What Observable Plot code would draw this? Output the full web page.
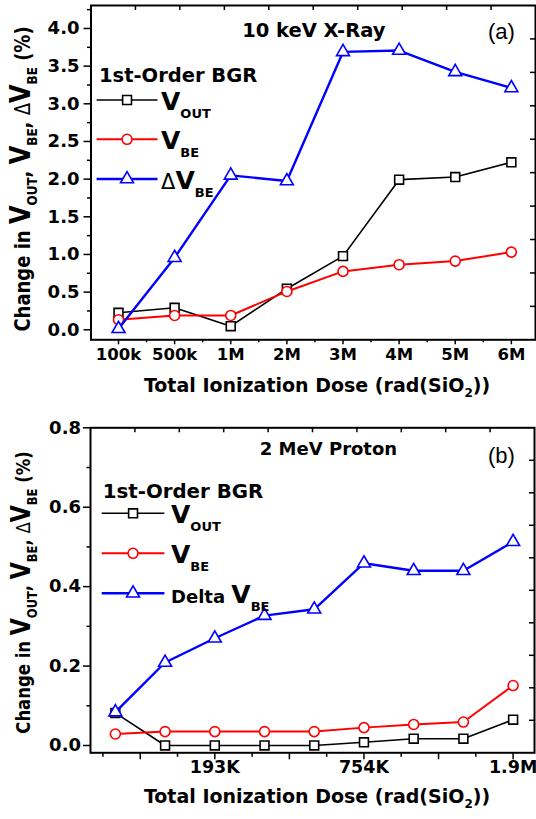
<!DOCTYPE html>
<html><head><meta charset="utf-8">
<script src="https://cdn.jsdelivr.net/npm/d3@7"></script>
<script src="https://cdn.jsdelivr.net/npm/@observablehq/plot@0.6"></script>
<style>
body{margin:0;background:#fff;}
#chart{width:536px;}
#chart svg{display:block;}
</style></head><body><div id="chart"></div>
<script>
// ---- Panel (a): 10 keV X-Ray ----
const xrayDoseLabels = ["100k","500k","1M","2M","3M","4M","5M","6M"];
const xrayVout      = [0.226,0.292,0.048,0.545,0.978,1.993,2.028,2.223];
const xrayVbe       = [0.133,0.19,0.19,0.509,0.775,0.864,0.912,1.031];
const xrayDeltaVbe  = [0.013,0.957,2.05,1.975,3.689,3.707,3.423,3.21];
const xrayYTicks    = [0,0.5,1,1.5,2,2.5,3,3.5,4];

// ---- Panel (b): 2 MeV Proton ----
const protonSteps      = [0,1,2,3,4,5,6,7,8];
const protonTickSteps  = [2,5,8];
const protonTickLabels = ["193K","754K","1.9M"];
const protonVout       = [0.082,0,0,0,0,0.008,0.017,0.017,0.065];
const protonVbe        = [0.029,0.035,0.035,0.035,0.035,0.045,0.053,0.059,0.151];
const protonDeltaVbe   = [0.084,0.209,0.27,0.327,0.343,0.459,0.44,0.44,0.513];
const protonYTicks     = [0,0.2,0.4,0.6,0.8];

const FONT = "'DejaVu Sans', sans-serif";
const colors = {vout:"#000000", vbe:"#ff0000", dvbe:"#0000ff"};
const widths = {vout:1.6, vbe:2, dvbe:2.4};
const symbols = {vout:"square", vbe:"circle", dvbe:"triangle"};
const radii = {vout:5, vbe:5, dvbe:4.8};

function rows(xs, ys){ return xs.map((x,i)=>({x, y:ys[i]})); }

function seriesMarks(xs, series){
  const m = [];
  for (const [key, ys] of series){
    const d = rows(xs, ys);
    m.push(Plot.line(d, {x:"x", y:"y", stroke:colors[key], strokeWidth:widths[key]}));
    m.push(Plot.dot(d, {x:"x", y:"y", symbol:symbols[key], r:radii[key], stroke:colors[key], strokeWidth:1.6, fill:"#fff"}));
  }
  return m;
}

function mirrorTicks(xDom, yDom, plotW, plotH){
  const tx = d3.range(1,10).map(k => xDom[0] + k*(xDom[1]-xDom[0])/10);
  const ty = d3.range(1,10).map(k => yDom[0] + k*(yDom[1]-yDom[0])/10);
  return [
    Plot.tickX(tx, {x:d=>d, stroke:"#000", strokeWidth:1.5, insetBottom: plotH-5}),
    Plot.tickY(ty, {y:d=>d, stroke:"#000", strokeWidth:1.5, insetLeft: plotW-5})
  ];
}

function addRich(parent, x, y, parts, attrs={}){
  const t = parent.append("text").attr("x", x).attr("y", y)
    .attr("font-family", FONT).attr("font-weight","bold").attr("fill","#000")
    .attr("text-anchor","start");
  for (const [k,v] of Object.entries(attrs)) t.attr(k, v);
  for (const p of parts){
    const s = t.append("tspan").text(p.t);
    if (p.size) s.attr("font-size", p.size);
    if (p.dy) s.attr("dy", p.dy);
    if (p.weight) s.attr("font-weight", p.weight);
  }
  return t;
}

function yTitle(svg, cx, cy, base, big, sub, sh){
  addRich(svg, 0, 0, [
    {t:"Change in ", size:base},
    {t:"V", size:big},
    {t:"OUT", size:sub, dy:sh},
    {t:", ", size:base, dy:-sh},
    {t:"V", size:big},
    {t:"BE", size:sub, dy:sh},
    {t:", ", size:base, dy:-sh},
    {t:"\u0394", size:base, weight:"normal"},
    {t:"V", size:big},
    {t:"BE", size:sub, dy:sh},
    {t:" (%)", size:base, dy:-sh}
  ], {"text-anchor":"middle", transform:`translate(${cx},${cy}) rotate(-90) scale(1,1.18)`});
}

function xTitle(svg, cx, cy){
  addRich(svg, cx, cy, [
    {t:"Total Ionization Dose (rad(SiO", size:19},
    {t:"2", size:12, dy:5},
    {t:"))", size:19, dy:-5}
  ], {"text-anchor":"middle"});
}

function legend(svg, o){
  const g = svg.append("g");
  addRich(g, o.x0, o.titleY, [{t:"1st-Order BGR", size:o.titleSize}]);
  o.rows.forEach((r,i)=>{
    const key = r.key, y = o.rowY[i];
    g.append("line").attr("x1",o.lx1).attr("x2",o.lx2).attr("y1",y).attr("y2",y)
      .attr("stroke",colors[key]).attr("stroke-width",widths[key]);
    const typ = key==="vout"? d3.symbolSquare : key==="vbe"? d3.symbolCircle : d3.symbolTriangle;
    g.append("path").attr("d", d3.symbol(typ, Math.PI*radii[key]*radii[key])())
      .attr("transform",`translate(${(o.lx1+o.lx2)/2},${y})`)
      .attr("fill","#fff").attr("stroke",colors[key]).attr("stroke-width",1.6);
    addRich(g, o.tx, y+10, r.parts);
  });
}

const chart = document.getElementById("chart");
const noLab = {label:null};

// ----- Top panel -----
{
  const W=536, H=410, mt=5, mb=70.7, ml=90.5, mr=1;
  const xDom=[-0.49,7.43], yDom=[-0.133,4.305];
  const idx = xrayDoseLabels.map((d,i)=>i);
  const minorY = d3.range(0.25,4.3,0.5);
  const p = Plot.plot({
    width:W, height:H, marginTop:mt, marginBottom:mb, marginLeft:ml, marginRight:mr,
    style:{fontFamily:FONT, fontWeight:"bold", color:"#000", background:"#fff", overflow:"visible"},
    x:{type:"linear", domain:xDom, axis:null},
    y:{type:"linear", domain:yDom, axis:null},
    marks:[
      Plot.axisY(xrayYTicks, {...noLab, tickSize:7, tickFormat:()=>"", strokeWidth:1.5}),
      Plot.axisY(minorY, {...noLab, tickSize:3.5, tickFormat:()=>"", strokeWidth:1.5}),
      Plot.axisY(xrayYTicks, {...noLab, tickSize:0, tickPadding:11.5, tickFormat:d=>d.toFixed(1), fontSize:18}),
      Plot.axisX(idx, {...noLab, tickSize:5, tickFormat:()=>"", strokeWidth:1.5}),
      Plot.axisX(idx.slice(0,-1).map(i=>i+0.5), {...noLab, tickSize:3, tickFormat:()=>"", strokeWidth:1.5}),
      Plot.axisX(idx, {...noLab, tickSize:0, tickPadding:8, tickFormat:i=>xrayDoseLabels[i], fontSize:16.5}),
      ...mirrorTicks(xDom, yDom, W-ml-mr, H-mt-mb),
      ...seriesMarks(idx, [["vout",xrayVout],["vbe",xrayVbe],["dvbe",xrayDeltaVbe]]),
      Plot.frame({stroke:"#000", strokeWidth:2})
    ]
  });
  chart.appendChild(p);
  const svg = d3.select(p);
  addRich(svg, 313.8, 36.7, [{t:"10 keV X-Ray", size:19.5}], {"text-anchor":"middle"});
  addRich(svg, 488, 39.3, [{t:"(a)", size:22}], {"font-family":"'Liberation Sans', Arial, sans-serif", "font-weight":"normal"});
  yTitle(svg, 29.5, 179, 18, 24, 12, 6);
  xTitle(svg, 317, 391.5);
  legend(svg, {
    x0:99, titleY:81.7, titleSize:19.5, lx1:96.6, lx2:157.5, tx:161,
    rowY:[100,139.3,179],
    rows:[
      {key:"vout", parts:[{t:"V",size:25},{t:"OUT",size:13,dy:8}]},
      {key:"vbe", parts:[{t:"V",size:25},{t:"BE",size:13,dy:8}]},
      {key:"dvbe", parts:[{t:"\u0394",size:21,weight:"normal"},{t:"V",size:25},{t:"BE",size:13,dy:8}]}
    ]
  });
}

// ----- Bottom panel -----
{
  const W=536, H=409, mt=17.3, mb=66.7, ml=90, mr=2;
  const xDom=[-0.5,8.43], yDom=[-0.0184,0.8];
  const minorY = d3.range(0.1,0.8,0.2);
  const allX = d3.range(-0.25,8.3,0.75);
  const majorX = allX.filter((d,i)=>i%2===1);
  const minorX = allX.filter((d,i)=>i%2===0);
  const p = Plot.plot({
    width:W, height:H, marginTop:mt, marginBottom:mb, marginLeft:ml, marginRight:mr,
    style:{fontFamily:FONT, fontWeight:"bold", color:"#000", background:"#fff", overflow:"visible"},
    x:{type:"linear", domain:xDom, axis:null},
    y:{type:"linear", domain:yDom, axis:null},
    marks:[
      Plot.axisY(protonYTicks, {...noLab, tickSize:7, tickFormat:()=>"", strokeWidth:1.5}),
      Plot.axisY(minorY, {...noLab, tickSize:3.5, tickFormat:()=>"", strokeWidth:1.5}),
      Plot.axisY(protonYTicks, {...noLab, tickSize:0, tickPadding:9.5, tickFormat:d=>d.toFixed(1), fontSize:18}),
      Plot.axisX(majorX, {...noLab, tickSize:7, tickFormat:()=>"", strokeWidth:1.5}),
      Plot.axisX(minorX, {...noLab, tickSize:4.5, tickFormat:()=>"", strokeWidth:1.5}),
      Plot.axisX(protonTickSteps, {...noLab, tickSize:0, tickPadding:8, tickFormat:d=>protonTickLabels[protonTickSteps.indexOf(d)], fontSize:17.5}),
      ...mirrorTicks(xDom, yDom, W-ml-mr, H-mt-mb),
      ...seriesMarks(protonSteps, [["vout",protonVout],["vbe",protonVbe],["dvbe",protonDeltaVbe]]),
      Plot.frame({stroke:"#000", strokeWidth:2})
    ]
  });
  chart.appendChild(p);
  const svg = d3.select(p);
  addRich(svg, 328.5, 45, [{t:"2 MeV Proton", size:18}], {"text-anchor":"middle"});
  addRich(svg, 488, 53.3, [{t:"(b)", size:22}], {"font-family":"'Liberation Sans', Arial, sans-serif", "font-weight":"normal"});
  yTitle(svg, 29.5, 182.5, 16.5, 22, 11.5, 6);
  xTitle(svg, 317, 393.3);
  legend(svg, {
    x0:102.7, titleY:87.7, titleSize:19.8, lx1:101.7, lx2:164.4, tx:171,
    rowY:[103.3,143.3,183.3],
    rows:[
      {key:"vout", parts:[{t:"V",size:25},{t:"OUT",size:13,dy:8}]},
      {key:"vbe", parts:[{t:"V",size:25},{t:"BE",size:13,dy:8}]},
      {key:"dvbe", parts:[{t:"Delta ",size:18},{t:"V",size:25},{t:"BE",size:13,dy:8}]}
    ]
  });
}
</script></body></html>
